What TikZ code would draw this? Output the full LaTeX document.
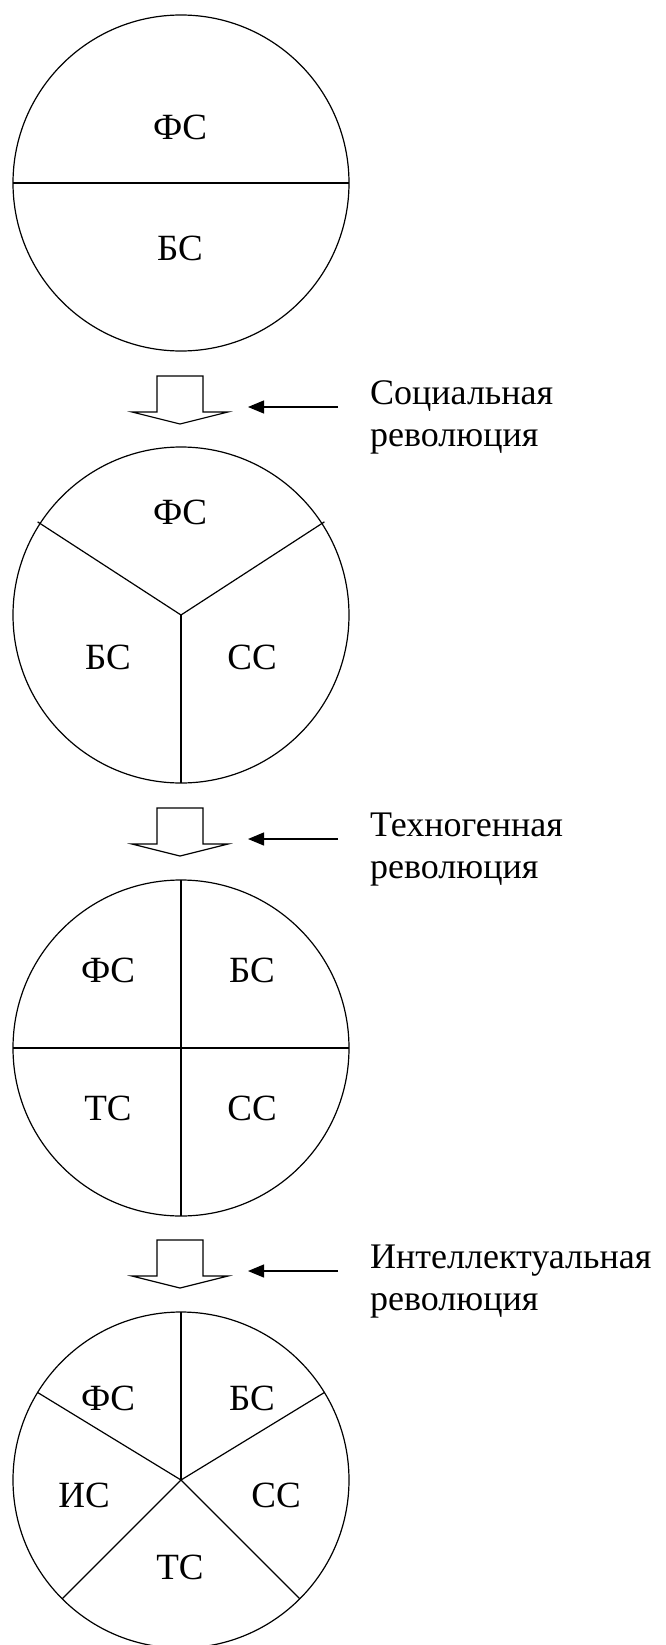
\documentclass[tikz,border=0pt]{standalone}
\usepackage{fontspec}
\setmainfont{Liberation Serif}
\usetikzlibrary{arrows.meta}
\begin{document}
\begin{tikzpicture}[x=1pt,y=-1pt,
  ln/.style={line width=1.2pt},
  lbl/.style={font=\fontsize{37}{42}\selectfont, anchor=base, inner sep=0pt},
  rev/.style={font=\fontsize{36}{42}\selectfont, anchor=north west, align=left, inner sep=0pt},
  ptr/.style={line width=1.2pt, -{Triangle[length=16pt,width=13pt]}},
  blk/.style={line width=1.2pt, fill=white, line join=miter}]
\useasboundingbox (0,0) rectangle (665,1645);

% circles
\coordinate (c1) at (181,183);
\coordinate (c2) at (181,615);
\coordinate (c3) at (181,1048);
\coordinate (c4) at (181,1480);

\draw[ln] (c1) circle[radius=168];
\draw[ln] (c1) ++(180:168) -- ++(336,0);
\node[lbl] (f1) at (180,140) {ФС};
\node[lbl] (b1) at (180,260) {БС};

\draw[ln] (c2) circle[radius=168];
\draw[ln] (c2) -- ++(-147:171);
\draw[ln] (c2) -- ++(-33:171);
\draw[ln] (c2) -- ++(90:168);
\node[lbl] (f2) at (180,524) {ФС};
\node[lbl] (b2) at (108,669) {БС};
\node[lbl] (s2) at (252,669) {СС};

\draw[ln] (c3) circle[radius=168];
\draw[ln] (c3) ++(180:168) -- ++(336,0);
\draw[ln] (c3) ++(-90:168) -- ++(0,336);
\node[lbl] (f3) at (108,982) {ФС};
\node[lbl] (b3) at (252,982) {БС};
\node[lbl] (t3) at (108,1120) {ТС};
\node[lbl] (s3) at (252,1120) {СС};

\draw[ln] (c4) circle[radius=168];
\draw[ln] (c4) -- ++(-90:168);
\draw[ln] (c4) -- ++(-148.6:168);
\draw[ln] (c4) -- ++(-31.4:168);
\draw[ln] (c4) -- ++(135:168);
\draw[ln] (c4) -- ++(45:168);
\node[lbl] (f4) at (108,1410) {ФС};
\node[lbl] (b4) at (252,1410) {БС};
\node[lbl] (i4) at (84,1507) {ИС};
\node[lbl] (s4) at (276,1507) {СС};
\node[lbl] (t4) at (180,1579) {ТС};

% transitions
\foreach \i/\T/\txt in {1/376/Социальная, 2/808/Техногенная, 3/1240/Интеллектуальная}{
  \draw[blk] (157,\T) -- (203,\T) -- (203,\T+36) -- (228,\T+36) -- (180,\T+48)
     -- (132,\T+36) -- (157,\T+36) -- cycle;
  \node[rev] (r\i) at (370,\T-2) {\rule{0pt}{30pt}\txt\\революция};
  \coordinate (tail\i) at (338,\T+31);
  \coordinate (tip\i) at (248,\T+31);
  \draw[ptr] (tail\i) -- (tip\i);
}
\end{tikzpicture}
\end{document}
